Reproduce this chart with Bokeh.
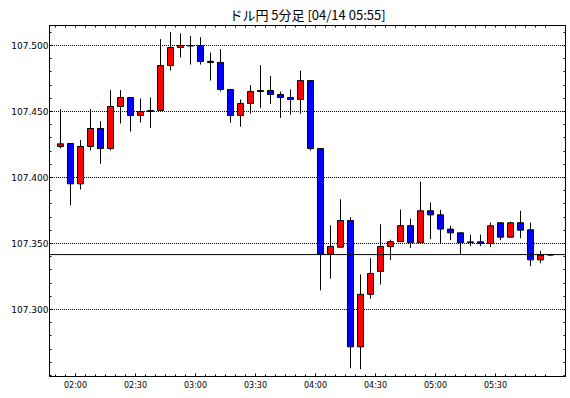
from bokeh.plotting import figure
from bokeh.models import FixedTicker, Span, Range1d, LinearAxis, ColumnDataSource, PrintfTickFormatter
from bokeh.embed import file_html
from bokeh.resources import INLINE

title_text = "ドル円 5分足 [04/14 05:55]"

# candle start times (minutes after 00:00), 5-minute bars from 01:50 to 05:55
start_min = [110 + 5 * i for i in range(50)]

opens = [107.4235, 107.4258, 107.3952, 107.4235, 107.4371, 107.4220, 107.4538, 107.4606, 107.4470, 107.4500,
         107.4508, 107.4848, 107.4985, 107.5000, 107.5000, 107.4880, 107.4872, 107.4667, 107.4470, 107.4561,
         107.4652, 107.4659, 107.4629, 107.4606, 107.4591, 107.4734, 107.4219, 107.3419, 107.3472, 107.3674,
         107.2717, 107.3115, 107.3288, 107.3476, 107.3514, 107.3635, 107.3505, 107.3748, 107.3717, 107.3609,
         107.3581, 107.3512, 107.3513, 107.3500, 107.3657, 107.3548, 107.3657, 107.3604, 107.3376, 107.3412]
highs = [107.4518, 107.4258, 107.4283, 107.4518, 107.4427, 107.4662, 107.4662, 107.4606, 107.4598, 107.4606,
         107.5048, 107.5101, 107.5091, 107.5071, 107.5063, 107.4947, 107.4972, 107.4667, 107.4591, 107.4700,
         107.4851, 107.4768, 107.4652, 107.4667, 107.4809, 107.4734, 107.4219, 107.3638, 107.3835, 107.3699,
         107.3266, 107.3389, 107.3646, 107.3529, 107.3757, 107.3689, 107.3969, 107.3811, 107.3755, 107.3634,
         107.3581, 107.3568, 107.3568, 107.3657, 107.3657, 107.3664, 107.3747, 107.3657, 107.3444, 107.3422]
lows = [107.4220, 107.3788, 107.3909, 107.4205, 107.4104, 107.4205, 107.4409, 107.4348, 107.4417, 107.4376,
        107.4505, 107.4811, 107.4909, 107.4856, 107.4856, 107.4735, 107.4652, 107.4414, 107.4384, 107.4485,
        107.4528, 107.4558, 107.4452, 107.4475, 107.4483, 107.4204, 107.3145, 107.3233, 107.3472, 107.2555,
        107.2548, 107.3082, 107.3190, 107.3375, 107.3514, 107.3467, 107.3505, 107.3533, 107.3500, 107.3525,
        107.3417, 107.3480, 107.3480, 107.3472, 107.3525, 107.3548, 107.3540, 107.3328, 107.3351, 107.3404]
closes = [107.4255, 107.3952, 107.4235, 107.4371, 107.4220, 107.4538, 107.4606, 107.4470, 107.4500, 107.4508,
          107.4848, 107.4985, 107.5000, 107.4996, 107.4879, 107.4872, 107.4667, 107.4470, 107.4561, 107.4652,
          107.4659, 107.4629, 107.4606, 107.4591, 107.4734, 107.4219, 107.3419, 107.3478, 107.3674, 107.2717,
          107.3115, 107.3273, 107.3477, 107.3514, 107.3635, 107.3505, 107.3748, 107.3717, 107.3609, 107.3581,
          107.3505, 107.3506, 107.3500, 107.3634, 107.3548, 107.3657, 107.3601, 107.3376, 107.3412, 107.3416]

x_tick_pos = [120, 150, 180, 210, 240, 270, 300, 330]
x_tick_labels = ["02:00", "02:30", "03:00", "03:30", "04:00", "04:30", "05:00", "05:30"]
y_ticks = [107.30, 107.35, 107.40, 107.45, 107.50]
y_minor = [round(107.25 + 0.01 * i, 2) for i in range(27)]

UP = "#FF0000"
DOWN = "#0000FF"

X_START, X_END = 107.0, 365.0
Y_TOP = 107.5 + 20 / 1320.0
Y_BOT = Y_TOP - 351 / 1320.0

xs = [t + 2.5 for t in start_min]
src = ColumnDataSource(dict(
    x=xs,
    high=highs,
    low=lows,
    top=[max(o, c) for o, c in zip(opens, closes)],
    bottom=[min(o, c) for o, c in zip(opens, closes)],
    color=[UP if c >= o else DOWN for o, c in zip(opens, closes)],
))

p = figure(frame_width=516, frame_height=351, output_backend="svg", toolbar_location=None,
           x_range=Range1d(X_START, X_END), y_range=Range1d(Y_BOT, Y_TOP),
           min_border_left=49, min_border_right=5, min_border_top=24, min_border_bottom=23,
           background_fill_color="white", border_fill_color="white")

p.title.text = title_text
p.title.align = "center"
p.title.text_font = "Noto Sans CJK JP"
p.title.text_font_size = "13px"
p.title.text_font_style = "normal"
p.title.text_color = "black"
p.title.standoff = 4

p.outline_line_color = "black"
p.outline_line_width = 1
p.outline_line_alpha = 1

xt = FixedTicker(ticks=x_tick_pos, minor_ticks=start_min)
yt = FixedTicker(ticks=y_ticks, minor_ticks=y_minor)

xa = p.xaxis[0]
xa.ticker = xt
xa.major_label_overrides = {t: l for t, l in zip(x_tick_pos, x_tick_labels)}
ya = p.yaxis[0]
ya.ticker = yt
ya.formatter = PrintfTickFormatter(format="%.3f")

for ax in (xa, ya):
    ax.axis_line_color = "black"
    ax.major_tick_line_color = "black"
    ax.minor_tick_line_color = "black"
    ax.major_tick_in = 3
    ax.major_tick_out = 0
    ax.minor_tick_in = 2
    ax.minor_tick_out = 0
    ax.major_label_text_color = "black"
    ax.major_label_text_font = "DejaVu Sans"
xa.major_label_text_font_size = "8px"
xa.major_label_standoff = 4
ya.major_label_text_font_size = "9px"
ya.major_label_standoff = 1

top_ax = LinearAxis(ticker=FixedTicker(ticks=[], minor_ticks=start_min))
right_ax = LinearAxis(ticker=FixedTicker(ticks=[], minor_ticks=y_minor))
for ax in (top_ax, right_ax):
    ax.axis_line_color = "black"
    ax.minor_tick_line_color = "black"
    ax.minor_tick_in = 2
    ax.minor_tick_out = 0
    ax.major_tick_in = 0
    ax.major_tick_out = 0
    ax.major_label_standoff = 0
p.add_layout(top_ax, "above")
p.add_layout(right_ax, "right")

# dotted horizontal gridlines at the labelled price levels (start half a pixel in so dots are crisp)
p.xgrid.visible = False
p.ygrid.visible = False
half_px = 0.25
p.segment(x0=[X_START + half_px] * len(y_ticks), y0=y_ticks, x1=[X_END] * len(y_ticks), y1=y_ticks,
          line_color="black", line_width=1, line_dash="1 1")

p.segment(x0="x", y0="high", x1="x", y1="low", source=src, line_color="black", line_width=1)
p.vbar(x="x", width=3.0, top="top", bottom="bottom", source=src,
       fill_color="color", line_color="black", line_width=1)

p.add_layout(Span(location=closes[-1], dimension="width", line_color="black", line_width=1))

open("out.html", "w").write(file_html(p, INLINE))
